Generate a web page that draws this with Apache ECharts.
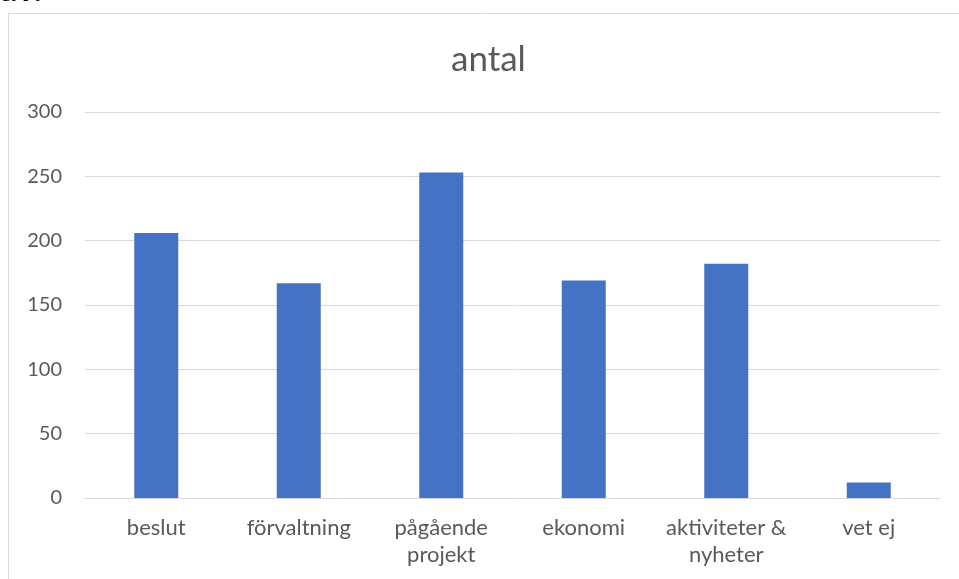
<!DOCTYPE html>
<html>
<head>
<meta charset="utf-8">
<script src="https://cdn.jsdelivr.net/npm/echarts@6/dist/echarts.min.js"></script>
<style>
  html, body { margin: 0; padding: 0; background: #fff; }
  #chart { width: 959px; height: 579px; }
</style>
</head>
<body>
<div id="chart"></div>
<script>
  const categories = ['beslut', 'förvaltning', 'pågående\nprojekt', 'ekonomi', 'aktiviteter &\nnyheter', 'vet ej']
  const values = [206, 167, 253, 169, 182, 12]
  const yTicks = [0, 50, 100, 150, 200, 250, 300]

  const textColor = '#595959'
  const gridColor = '#d9d9d9'
  const font = 'Lato, "Open Sans", sans-serif'

  const chart = echarts.init(document.getElementById('chart'))
  chart.setOption({
    animation: false,
    backgroundColor: '#fff',
    title: {
      text: 'antal',
      left: 446,
      top: 37,
      textStyle: { color: textColor, fontSize: 35, fontWeight: 'normal', fontFamily: font }
    },
    graphic: [
      {
        type: 'rect',
        shape: { x: 8.5, y: 13.5, width: 1000, height: 1000 },
        style: { fill: 'none', stroke: gridColor, lineWidth: 1 }
      },
      {
        type: 'text',
        left: 0,
        top: -27,
        style: { text: 'av.', fill: '#000', font: 'bold 34px ' + font }
      }
    ],
    grid: { left: 85, right: 19, top: 112, bottom: 81 },
    xAxis: {
      type: 'category',
      data: categories,
      axisLine: { show: true, lineStyle: { color: gridColor, width: 1 } },
      axisTick: { show: false },
      axisLabel: {
        color: textColor,
        fontSize: 22,
        fontFamily: font,
        margin: 16,
        lineHeight: 27,
        interval: 0
      }
    },
    yAxis: {
      type: 'value',
      min: yTicks[0],
      max: yTicks[yTicks.length - 1],
      interval: 50,
      axisLine: { show: false },
      axisTick: { show: false },
      splitLine: { show: true, lineStyle: { color: gridColor, width: 1 } },
      axisLabel: { color: textColor, fontSize: 20, fontFamily: font, margin: 23 }
    },
    series: [{
      type: 'bar',
      data: values,
      barWidth: 44,
      itemStyle: { color: '#4472C4' }
    }]
  })
</script>
</body>
</html>
